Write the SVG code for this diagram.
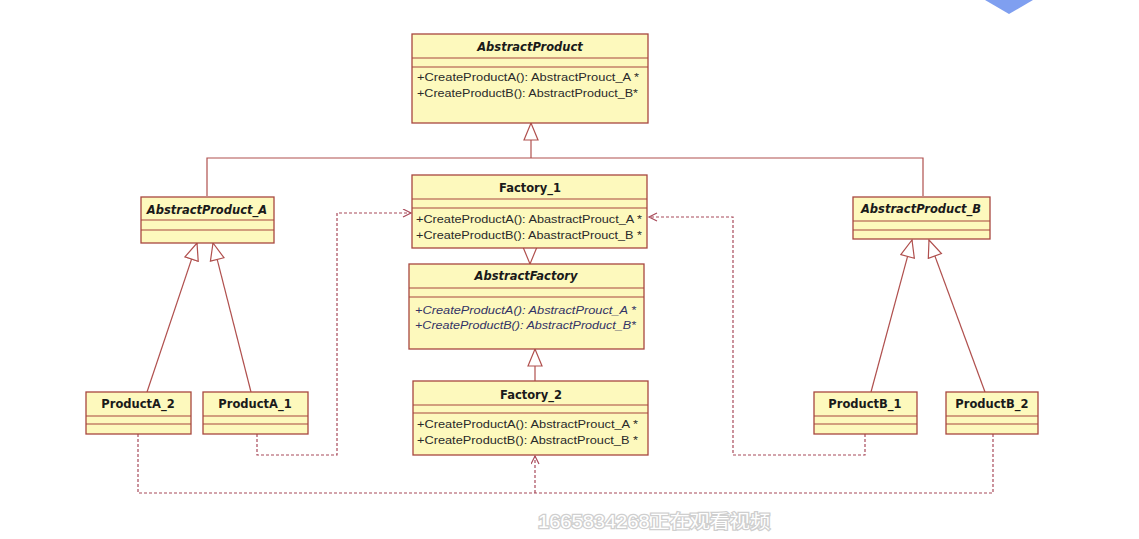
<svg xmlns="http://www.w3.org/2000/svg" width="1139" height="539" viewBox="0 0 1139 539">
<style>
.box{fill:#fdf9bd;stroke:#a8473f;stroke-width:1.3}
.sep{stroke:#a8473f;stroke-width:1.1}
.t{font-family:"DejaVu Sans","Liberation Sans",sans-serif;font-size:11.5px;font-weight:bold;fill:#1a1a1a;text-anchor:middle}
.ti{font-style:italic}
.m{font-family:"Liberation Sans",sans-serif;font-size:11.5px;fill:#2a2a2a}
.mi{font-style:italic;fill:#333366}
.gen{fill:none;stroke:#b0504e;stroke-width:1.2}
.dep{fill:none;stroke:#a84a5a;stroke-width:1.2;stroke-dasharray:3 2}
.wm{font-family:"Liberation Sans","Noto Sans CJK SC",sans-serif;font-size:18px;fill:#ffffff;stroke:#cfcfcf;stroke-width:2.5;paint-order:stroke}
</style>
<defs>
<marker id="tri" markerUnits="userSpaceOnUse" markerWidth="20" markerHeight="18" refX="18" refY="8" orient="auto">
<path d="M1,1 L18,8 L1,15 Z" fill="#ffffff" stroke="#b0504e" stroke-width="1.2"/>
</marker>
<marker id="open" markerUnits="userSpaceOnUse" markerWidth="12" markerHeight="10" refX="9" refY="4.5" orient="auto">
<path d="M1,0.5 L9,4.5 L1,8.5" fill="none" stroke="#a84a5a" stroke-width="1.2"/>
</marker>
</defs>
<rect width="1139" height="539" fill="#ffffff"/>
<path d="M985,0 L1033,0 L1009,14 Z" fill="#7f9ff0"/>
<g id="connectors">
<path class="gen" d="M207,196 V158 H923 V196"/>
<line class="gen" x1="531" y1="158" x2="531" y2="123" marker-end="url(#tri)"/>
<line class="gen" x1="530" y1="248" x2="530" y2="264" marker-end="url(#tri)"/>
<line class="gen" x1="535" y1="381" x2="535" y2="349" marker-end="url(#tri)"/>
<line class="gen" x1="147" y1="392" x2="197" y2="243" marker-end="url(#tri)"/>
<line class="gen" x1="251" y1="392" x2="213" y2="243" marker-end="url(#tri)"/>
<line class="gen" x1="871" y1="392" x2="912" y2="240" marker-end="url(#tri)"/>
<line class="gen" x1="985" y1="392" x2="929" y2="240" marker-end="url(#tri)"/>
<path class="dep" d="M257,434 V455 H337 V213 H411" marker-end="url(#open)"/>
<path class="dep" d="M865,434 V455 H733 V217 H649" marker-end="url(#open)"/>
<path class="dep" d="M138,434 V493 H993 V434"/>
<path class="dep" d="M535,493 V456" marker-end="url(#open)"/>
</g>
<g id="AbstractProduct">
<rect class="box" x="412" y="34" width="236" height="89"/>
<line class="sep" x1="412" y1="58" x2="648" y2="58"/>
<line class="sep" x1="412" y1="67" x2="648" y2="67"/>
<text class="t ti" x="530" y="51">AbstractProduct</text>
<text class="m" x="417" y="81" textLength="222" lengthAdjust="spacingAndGlyphs">+CreateProductA(): AbstractProuct_A *</text>
<text class="m" x="417" y="97" textLength="221" lengthAdjust="spacingAndGlyphs">+CreateProductB(): AbstractProduct_B*</text>
</g>
<g id="Factory_1">
<rect class="box" x="412" y="175" width="235" height="73"/>
<line class="sep" x1="412" y1="199" x2="647" y2="199"/>
<line class="sep" x1="412" y1="208" x2="647" y2="208"/>
<text class="t" x="530" y="192">Factory_1</text>
<text class="m" x="416" y="223" textLength="226" lengthAdjust="spacingAndGlyphs">+CreateProductA(): AbastractProuct_A *</text>
<text class="m" x="416" y="239" textLength="226" lengthAdjust="spacingAndGlyphs">+CreateProductB(): AbastractProuct_B *</text>
</g>
<g id="AbstractFactory">
<rect class="box" x="409" y="264" width="235" height="85"/>
<line class="sep" x1="409" y1="288" x2="644" y2="288"/>
<line class="sep" x1="409" y1="297" x2="644" y2="297"/>
<text class="t ti" x="526" y="280">AbstractFactory</text>
<text class="m mi" x="415" y="314" textLength="221" lengthAdjust="spacingAndGlyphs">+CreateProductA(): AbstractProuct_A *</text>
<text class="m mi" x="415" y="329" textLength="221" lengthAdjust="spacingAndGlyphs">+CreateProductB(): AbstractProduct_B*</text>
</g>
<g id="Factory_2">
<rect class="box" x="413" y="381" width="235" height="74"/>
<line class="sep" x1="413" y1="405" x2="648" y2="405"/>
<line class="sep" x1="413" y1="413" x2="648" y2="413"/>
<text class="t" x="531" y="399">Factory_2</text>
<text class="m" x="417" y="428" textLength="221" lengthAdjust="spacingAndGlyphs">+CreateProductA(): AbstractProuct_A *</text>
<text class="m" x="417" y="444" textLength="221" lengthAdjust="spacingAndGlyphs">+CreateProductB(): AbstractProuct_B *</text>
</g>
<g id="AbstractProduct_A">
<rect class="box" x="141" y="197" width="133" height="46"/>
<line class="sep" x1="141" y1="220" x2="274" y2="220"/>
<line class="sep" x1="141" y1="230" x2="274" y2="230"/>
<text class="t ti" x="207" y="214">AbstractProduct_A</text>
</g>
<g id="AbstractProduct_B">
<rect class="box" x="853" y="197" width="137" height="42"/>
<line class="sep" x1="853" y1="221" x2="990" y2="221"/>
<line class="sep" x1="853" y1="230" x2="990" y2="230"/>
<text class="t ti" x="921" y="213">AbstractProduct_B</text>
</g>
<g id="ProductA_2">
<rect class="box" x="86" y="392" width="105" height="42"/>
<line class="sep" x1="86" y1="416" x2="191" y2="416"/>
<line class="sep" x1="86" y1="424" x2="191" y2="424"/>
<text class="t" x="138" y="408">ProductA_2</text>
</g>
<g id="ProductA_1">
<rect class="box" x="203" y="392" width="105" height="42"/>
<line class="sep" x1="203" y1="416" x2="308" y2="416"/>
<line class="sep" x1="203" y1="424" x2="308" y2="424"/>
<text class="t" x="255" y="408">ProductA_1</text>
</g>
<g id="ProductB_1">
<rect class="box" x="814" y="392" width="103" height="42"/>
<line class="sep" x1="814" y1="416" x2="917" y2="416"/>
<line class="sep" x1="814" y1="424" x2="917" y2="424"/>
<text class="t" x="865" y="408">ProductB_1</text>
</g>
<g id="ProductB_2">
<rect class="box" x="946" y="392" width="92" height="42"/>
<line class="sep" x1="946" y1="416" x2="1038" y2="416"/>
<line class="sep" x1="946" y1="424" x2="1038" y2="424"/>
<text class="t" x="992" y="408">ProductB_2</text>
</g>
<text class="wm" x="538" y="528" textLength="232" lengthAdjust="spacingAndGlyphs">1665834268正在观看视频</text>
</svg>
